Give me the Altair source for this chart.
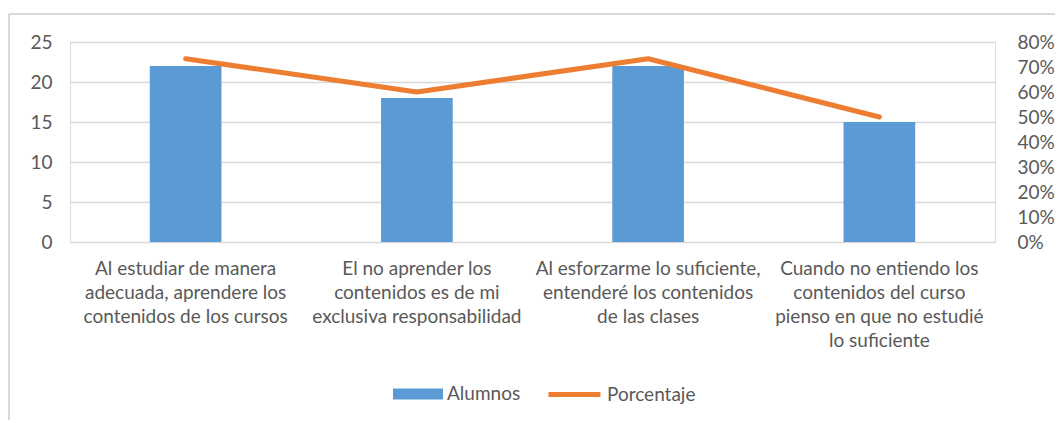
import altair as alt
import pandas as pd

categories = [
    "Al estudiar de manera\nadecuada, aprendere los\ncontenidos de los cursos",
    "El no aprender los\ncontenidos es de mi\nexclusiva responsabilidad",
    "Al esforzarme lo suficiente,\nentenderé los contenidos\nde las clases",
    "Cuando no entiendo los\ncontenidos del curso\npienso en que no estudié\nlo suficiente",
]
alumnos = [22, 18, 22, 15]
porcentaje = [0.733, 0.60, 0.733, 0.50]
left_ticks = [0, 5, 10, 15, 20, 25]
right_ticks = [0, 0.1, 0.2, 0.3, 0.4, 0.5, 0.6, 0.7, 0.8]

df = pd.DataFrame({
    "cat": categories,
    "Alumnos": alumnos,
    "Porcentaje": porcentaje,
    "s1": ["Alumnos"] * len(categories),
    "s2": ["Porcentaje"] * len(categories),
})

FONT = "Lato"
TXT = "#595959"
GRID = "#D9D9D9"

x_enc = alt.X(
    "cat:N", sort=None, title=None,
    scale=alt.Scale(paddingInner=0.69, paddingOuter=0.345),
    axis=alt.Axis(labelExpr="split(datum.label, '\\n')", labelAngle=0,
                  labelFont=FONT, labelFontSize=19, labelColor=TXT,
                  labelLineHeight=24, labelPadding=17, labelBaseline="top",
                  ticks=False, domain=False, grid=False, labelLimit=400),
)

bars = alt.Chart(df).mark_bar(color="#5B9BD5").encode(
    x=x_enc,
    y=alt.Y("Alumnos:Q", title=None,
            scale=alt.Scale(domain=[0, 25]),
            axis=alt.Axis(values=left_ticks, grid=True, gridColor=GRID, gridWidth=1.5,
                          ticks=False, domain=False, labelFont=FONT, labelFontSize=19,
                          labelColor=TXT, labelPadding=18)),
    fill=alt.Fill("s1:N", title=None,
                  scale=alt.Scale(domain=["Alumnos"], range=["#5B9BD5"]),
                  legend=alt.Legend(orient="none", legendX=323, legendY=327,
                                    symbolType="M-1,-0.22H1V0.22H-1Z", symbolSize=2500,
                                    symbolStrokeWidth=0, symbolOpacity=1,
                                    labelFont=FONT, labelFontSize=19, labelColor=TXT,
                                    labelOffset=4, padding=0)),
)

line = alt.Chart(df).mark_line(strokeWidth=5, strokeCap="round", strokeJoin="round").encode(
    x=x_enc,
    y=alt.Y("Porcentaje:Q", title=None,
            scale=alt.Scale(domain=[0, 0.8]),
            axis=alt.Axis(values=right_ticks, format=".0%", orient="right", grid=False,
                          ticks=False, domain=False, labelFont=FONT, labelFontSize=19,
                          labelColor=TXT, labelPadding=22)),
    stroke=alt.Stroke("s2:N", title=None,
                      scale=alt.Scale(domain=["Porcentaje"], range=["#ED7D31"]),
                      legend=alt.Legend(orient="none", legendX=476, legendY=324,
                                        symbolType="stroke", symbolSize=2700,
                                        symbolStrokeWidth=5,
                                        labelFont=FONT, labelFontSize=19, labelColor=TXT,
                                        labelOffset=4, padding=0)),
)

frame_top = alt.Chart(df).mark_rule(color=GRID, strokeWidth=1.5).encode(
    x=alt.value(-61), x2=alt.value(1000), y=alt.value(-28))
frame_left = alt.Chart(df).mark_rule(color=GRID, strokeWidth=1.5).encode(
    x=alt.value(-61), y=alt.value(-28), y2=alt.value(400))

chart = alt.layer(frame_top, frame_left, bars, line).resolve_scale(
    y="independent", fill="independent", stroke="independent"
).resolve_legend(fill="independent", stroke="independent").properties(
    width=925, height=200,
    autosize=alt.AutoSizeParams(type="none"),
    padding={"left": 62, "top": 34, "right": 60, "bottom": 178},
).configure_view(stroke=None).configure(background="white")

chart.save("out.html", embed_options={"renderer": "svg", "actions": False})
